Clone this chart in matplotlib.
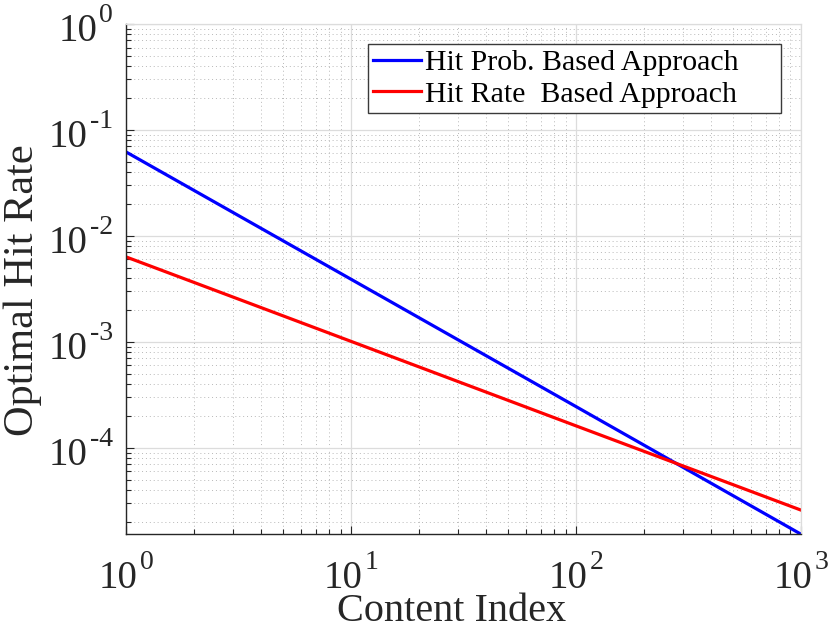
import matplotlib
matplotlib.use("Agg")
import matplotlib.pyplot as plt
from matplotlib.ticker import LogLocator, FixedLocator, NullFormatter

plt.rcParams['font.family'] = ['Liberation Serif', 'DejaVu Serif']

content_index = [1, 10, 100, 1000]
hit_prob_based = [0.062, 0.0039, 2.45e-4, 1.53e-5]
hit_rate_based = [0.00633, 1.01e-3, 1.61e-4, 2.58e-5]
series_labels = ['Hit Prob. Based Approach', 'Hit Rate  Based Approach']
x_ticks = [1, 10, 100, 1000]
x_tick_exps = ['0', '1', '2', '3']
y_ticks = [1e-4, 1e-3, 1e-2, 1e-1, 1e0]
y_tick_exps = ['-4', '-3', '-2', '-1', '0']

DPI = 100
fig = plt.figure(figsize=(8.3, 6.32), dpi=DPI)
ax = fig.add_axes([0.1518, 0.155, 0.8129, 0.807])

ax.loglog(content_index, hit_prob_based, color='#0000ff', lw=2.3, label=series_labels[0])
ax.loglog(content_index, hit_rate_based, color='#ff0000', lw=2.3, label=series_labels[1])

ax.set_xlim(1, 1000)
ax.set_ylim(1.53e-5, 1.0)

dark = '#262626'
ax.xaxis.set_major_locator(FixedLocator(x_ticks))
ax.yaxis.set_major_locator(FixedLocator(y_ticks))
ax.xaxis.set_minor_locator(LogLocator(base=10, subs=range(2, 10), numticks=20))
ax.yaxis.set_minor_locator(LogLocator(base=10, subs=range(2, 10), numticks=20))
for a in (ax.xaxis, ax.yaxis):
    a.set_major_formatter(NullFormatter())
    a.set_minor_formatter(NullFormatter())

ax.tick_params(which='both', direction='in', colors=dark, top=False, right=False)
ax.tick_params(which='major', length=6, width=0.8)
ax.tick_params(which='minor', length=3.5, width=0.8)

ax.grid(which='major', color='#dcdcdc', lw=0.9, ls='-')
ax.grid(which='minor', color='#b8b8b8', lw=0.7, ls=(0, (1, 3)))
ax.set_axisbelow(True)

for s in ['left', 'bottom']:
    ax.spines[s].set_color(dark)
    ax.spines[s].set_linewidth(1.0)
for s in ['top', 'right']:
    ax.spines[s].set_color('#dcdcdc')
    ax.spines[s].set_linewidth(0.9)

# MATLAB-style power-of-ten tick labels: "10" plus a raised, smaller exponent
MAIN_FS, SUP_FS = 28, 20
GAP_PX = 2
RAISE_PX = 19
renderer = fig.canvas.get_renderer()

def text_width_px(s, fs):
    t = fig.text(0, 0, s, fontsize=fs)
    w = t.get_window_extent(renderer).width
    t.remove()
    return w

px2pt = 72.0 / DPI
w_main = text_width_px('10', MAIN_FS)

# x tick labels: centred under the tick, baseline 54 px below the axis
for xt, e in zip(x_ticks, x_tick_exps):
    w_sup = text_width_px(e, SUP_FS)
    total = w_main + GAP_PX + w_sup
    left = -total / 2
    ax.annotate('10', xy=(xt, 0), xycoords=('data', 'axes fraction'),
                xytext=(left * px2pt, -54 * px2pt), textcoords='offset points',
                ha='left', va='baseline', fontsize=MAIN_FS, color=dark,
                annotation_clip=False)
    ax.annotate(e, xy=(xt, 0), xycoords=('data', 'axes fraction'),
                xytext=((left + w_main + GAP_PX) * px2pt, (-54 + RAISE_PX) * px2pt),
                textcoords='offset points', ha='left', va='baseline',
                fontsize=SUP_FS, color=dark, annotation_clip=False)

# y tick labels: right edge 13 px left of the axis, baseline 17 px below tick
for yt, e in zip(y_ticks, y_tick_exps):
    w_sup = text_width_px(e, SUP_FS)
    ax.annotate(e, xy=(0, yt), xycoords=('axes fraction', 'data'),
                xytext=(-13 * px2pt, (-17 + RAISE_PX) * px2pt),
                textcoords='offset points', ha='right', va='baseline',
                fontsize=SUP_FS, color=dark, annotation_clip=False)
    ax.annotate('10', xy=(0, yt), xycoords=('axes fraction', 'data'),
                xytext=((-13 - w_sup - GAP_PX) * px2pt, -17 * px2pt),
                textcoords='offset points', ha='right', va='baseline',
                fontsize=MAIN_FS, color=dark, annotation_clip=False)

ax.set_xlabel('Content Index', fontsize=29, color=dark)
ax.set_ylabel('Optimal Hit Rate', fontsize=30.5, color=dark)
ax.xaxis.set_label_coords(0.483, -0.116)
ax.yaxis.set_label_coords(-0.1245, 0.479)

leg = ax.legend(loc='upper left', bbox_to_anchor=(0.3587, 0.828, 0.612, 0.132),
                mode='expand', fontsize=21.5,
                frameon=True, fancybox=False, edgecolor='#3a3a3a', framealpha=1,
                handlelength=1.6, handletextpad=0.15, labelspacing=0.15,
                borderpad=0.17, borderaxespad=0)
leg.get_frame().set_linewidth(1.0)

fig.savefig('out.png', dpi=DPI)
